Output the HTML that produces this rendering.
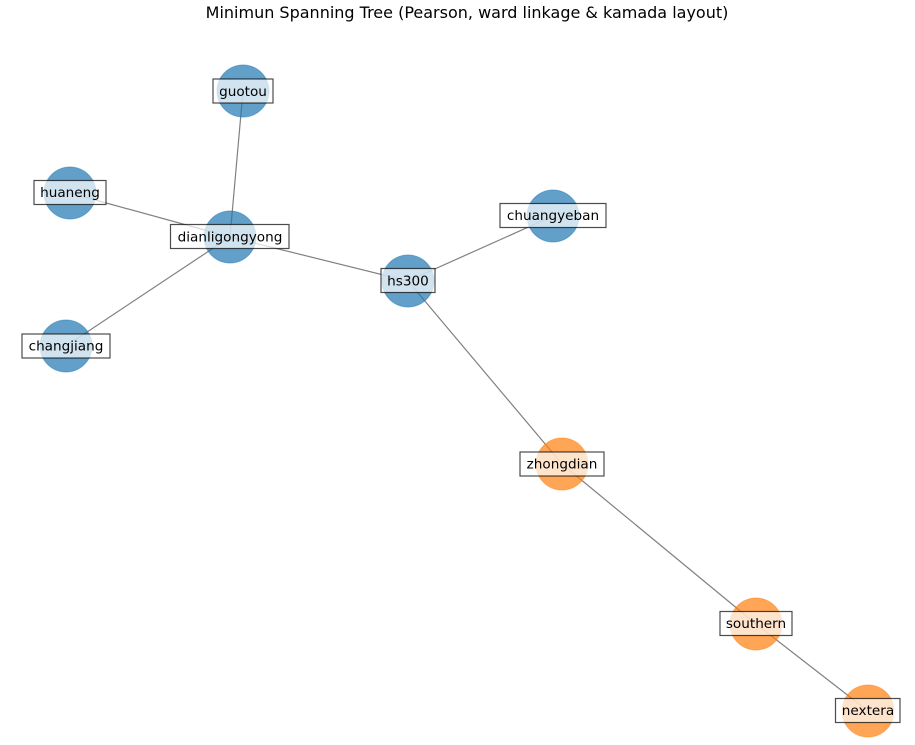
<!DOCTYPE html>
<html><head><meta charset="utf-8"><style>
html,body{margin:0;padding:0;background:#fff;}
svg{display:block;font-family:"DejaVu Sans","Liberation Sans",sans-serif;}
</style></head><body>
<svg width="915" height="745" viewBox="0 0 915 745" xmlns="http://www.w3.org/2000/svg">
<rect width="915" height="745" fill="#fff"/>
<text x="467" y="18" font-size="16" text-anchor="middle" fill="#000">Minimun Spanning Tree (Pearson, ward linkage &amp; kamada layout)</text>
<g stroke="#808080" stroke-width="1.2">
<line x1="243" y1="91" x2="230" y2="237"/>
<line x1="70" y1="193" x2="230" y2="237"/>
<line x1="66" y1="346" x2="230" y2="237"/>
<line x1="230" y1="237" x2="408" y2="281"/>
<line x1="408" y1="281" x2="553" y2="216"/>
<line x1="408" y1="281" x2="562" y2="464"/>
<line x1="562" y1="464" x2="756" y2="624"/>
<line x1="756" y1="624" x2="868" y2="711"/>
</g>
<g fill="#1f77b4" fill-opacity="0.7" stroke="#1f77b4" stroke-opacity="0.5" stroke-width="1">
<circle cx="243" cy="91" r="26"/>
<circle cx="70" cy="193" r="26"/>
<circle cx="230" cy="237" r="26"/>
<circle cx="66" cy="346" r="26"/>
<circle cx="408" cy="281" r="26"/>
<circle cx="553" cy="216" r="26"/>
</g>
<g fill="#ff7f0e" fill-opacity="0.7" stroke="#ff7f0e" stroke-opacity="0.5" stroke-width="1">
<circle cx="562" cy="464" r="26"/>
<circle cx="756" cy="624" r="26"/>
<circle cx="868" cy="711" r="26"/>
</g>
<g fill="#fff" fill-opacity="0.7" stroke="#000" stroke-opacity="0.7" stroke-width="1.2">
<rect x="213" y="79" width="60" height="24"/>
<rect x="34" y="180.5" width="72" height="24"/>
<rect x="170.5" y="224.5" width="118.5" height="24"/>
<rect x="22" y="334" width="88" height="24"/>
<rect x="381" y="268.5" width="54" height="24"/>
<rect x="500" y="203.5" width="106" height="24"/>
<rect x="520" y="452" width="84" height="24"/>
<rect x="720" y="611.5" width="72" height="24"/>
<rect x="835.5" y="698.5" width="64.5" height="24"/>
</g>
<g font-size="13.6" text-anchor="middle" fill="#000">
<text x="243" y="96">guotou</text>
<text x="70" y="197">huaneng</text>
<text x="230" y="241.5">dianligongyong</text>
<text x="66" y="350.5">changjiang</text>
<text x="408" y="285.5">hs300</text>
<text x="553" y="220">chuangyeban</text>
<text x="562" y="468.5">zhongdian</text>
<text x="756" y="628">southern</text>
<text x="868" y="715">nextera</text>
</g>
</svg>
</body></html>
